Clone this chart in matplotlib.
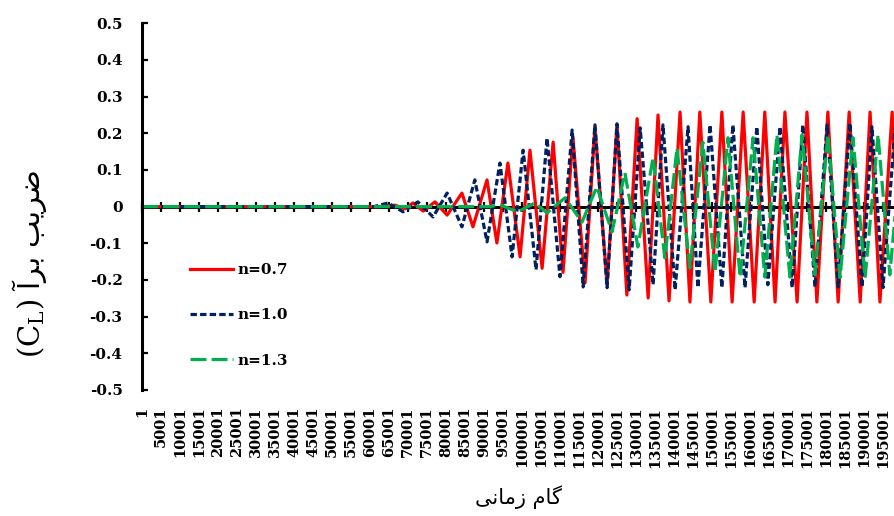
import matplotlib.pyplot as plt

plt.rcParams["mathtext.fontset"] = "custom"
plt.rcParams["mathtext.rm"] = "DejaVu Serif"

# extrema of each lift-coefficient trace (time step, C_L)
red_steps = [1, 62600, 66600, 69200, 71300, 74000, 77100, 80300, 84200, 87100,
             90800, 93400, 96300, 99500, 102100, 105300, 108200, 110800, 113400,
             116600, 119200, 122400, 125000, 127600, 130300, 133200, 135800,
             138700, 141600, 144200, 146800, 149700, 152600, 155300, 158200,
             161100, 163900, 166600, 169200, 172400, 175000, 177600, 180500,
             183200, 186100, 189000, 191600, 194200, 197400, 200000]
red_cl = [0, 0, 0.004, -0.006, 0.01, -0.012, 0.013, -0.023, 0.037, -0.055,
          0.073, -0.099, 0.119, -0.137, 0.154, -0.168, 0.176, -0.179, 0.19,
          -0.208, 0.217, -0.213, 0.223, -0.241, 0.24, -0.249, 0.25,
          -0.257, 0.258, -0.26, 0.258, -0.26, 0.258, -0.26, 0.258,
          -0.26, 0.258, -0.26, 0.258, -0.26, 0.258, -0.26, 0.258,
          -0.26, 0.258, -0.26, 0.258, -0.26, 0.258, -0.26]

blue_steps = [1, 61000, 64700, 68700, 72600, 76600, 80300, 84200, 87600, 90800,
              94200, 97400, 100300, 103700, 106600, 110000, 113200, 116100,
              119200, 122400, 125000, 128200, 131100, 134500, 137100, 140300,
              143700, 146300, 149500, 152600, 155500, 158700, 161800, 164700,
              167900, 171100, 173900, 177100, 180300, 183200, 186300, 189500,
              192100, 195000, 198200]
blue_cl = [0, 0, 0.01, -0.014, 0.013, -0.028, 0.037, -0.055, 0.073, -0.096,
           0.119, -0.137, 0.154, -0.172, 0.187, -0.191, 0.209, -0.219,
           0.223, -0.221, 0.226, -0.227, 0.215, -0.213, 0.223, -0.227,
           0.218, -0.221, 0.223, -0.221, 0.223, -0.221, 0.218, -0.213,
           0.218, -0.221, 0.223, -0.219, 0.223, -0.219, 0.228, -0.219,
           0.218, -0.221, 0.22]

green_steps = [1, 91600, 94200, 98900, 103400, 106600, 111300, 115800, 119700,
               123700, 127100, 130500, 134500, 137600, 140800, 144200, 147600,
               150800, 154200, 157400, 160800, 163900, 167100, 170500, 173700,
               177100, 180500, 183700, 187100, 190300, 193700, 196800, 200000]
green_cl = [0, 0, 0.005, -0.014, 0.01, -0.017, 0.024, -0.042, 0.054,
            -0.069, 0.092, -0.11, 0.135, -0.14, 0.16, -0.167, 0.176,
            -0.179, 0.188, -0.192, 0.188, -0.192, 0.196, -0.192, 0.196,
            -0.186, 0.196, -0.194, 0.188, -0.194, 0.196, -0.186, 0.19]

series_labels = ["n=0.7", "n=1.0", "n=1.3"]

x_ticks = list(range(1, 200001, 5000))
x_tick_labels = [str(t) for t in x_ticks]
y_ticks = [-0.5, -0.4, -0.3, -0.2, -0.1, 0, 0.1, 0.2, 0.3, 0.4, 0.5]
y_tick_labels = ["-0.5", "-0.4", "-0.3", "-0.2", "-0.1", "0",
                 "0.1", "0.2", "0.3", "0.4", "0.5"]

# Persian titles, written in shaped (presentation) forms, visual order
x_title = "\uFBFD\uFEE7\uFE8E\uFEE3\uFEAF \uFEE1\uFE8E\uFB94"
y_title = r"$\mathrm{(C_L)}$ " + "\uFE81\uFEAE\uFE91 \uFE90\uFBFE\uFEAE\uFEBF"

tick_font = dict(family="DejaVu Serif", weight="bold", size=11)
xtick_font = dict(family="DejaVu Serif", weight="bold", size=10.5)

fig = plt.figure(figsize=(8.94, 5.16), dpi=100)
ax = fig.add_axes([0.1588, 0.2442, 0.8412, 0.7106])

ax.plot(red_steps, red_cl, color="#FF0000", lw=2.3, label=series_labels[0],
        solid_joinstyle="round")
ax.plot(blue_steps, blue_cl, color="#002060", lw=2.3, dashes=(2, 1),
        label=series_labels[1], dash_joinstyle="round")
ax.plot(green_steps, green_cl, color="#00B050", lw=2.3, dashes=(5, 1.6),
        label=series_labels[2], dash_joinstyle="round")

ax.set_xlim(1, 197900)
ax.set_ylim(-0.5, 0.5)

for side in ["top", "right", "bottom"]:
    ax.spines[side].set_visible(False)
ax.spines["left"].set_linewidth(2.2)

ax.set_yticks(y_ticks, y_tick_labels, fontdict=tick_font)
ax.tick_params(axis="y", direction="in", length=4, width=1.6, pad=14)
ax.set_xticks(x_ticks, x_tick_labels, rotation=90, fontdict=xtick_font)
ax.tick_params(axis="x", length=0, pad=12)

# horizontal axis line crossing at zero, with its tick marks
zero_axis = ax.secondary_xaxis(0.5)
zero_axis.set_xticks(x_ticks)
zero_axis.tick_params(direction="inout", length=7, width=1.6,
                      labeltop=False, labelbottom=False)
for side in ["top", "bottom"]:
    zero_axis.spines[side].set_linewidth(2.2)

ax.legend(loc="upper left", bbox_to_anchor=(0.064, 0.346), frameon=False,
          borderpad=0, borderaxespad=0, handlelength=2.8, handletextpad=0.3,
          labelspacing=2.05, prop=tick_font)

fig.text(30 / 894, 1 - 264 / 516, y_title, rotation=90, ha="center",
         va="center", fontsize=21, family="DejaVu Sans")
fig.text(518 / 894, 1 - 497 / 516, x_title, ha="center", va="center",
         fontsize=15, family="DejaVu Sans")

fig.savefig("out.png", dpi=100)
